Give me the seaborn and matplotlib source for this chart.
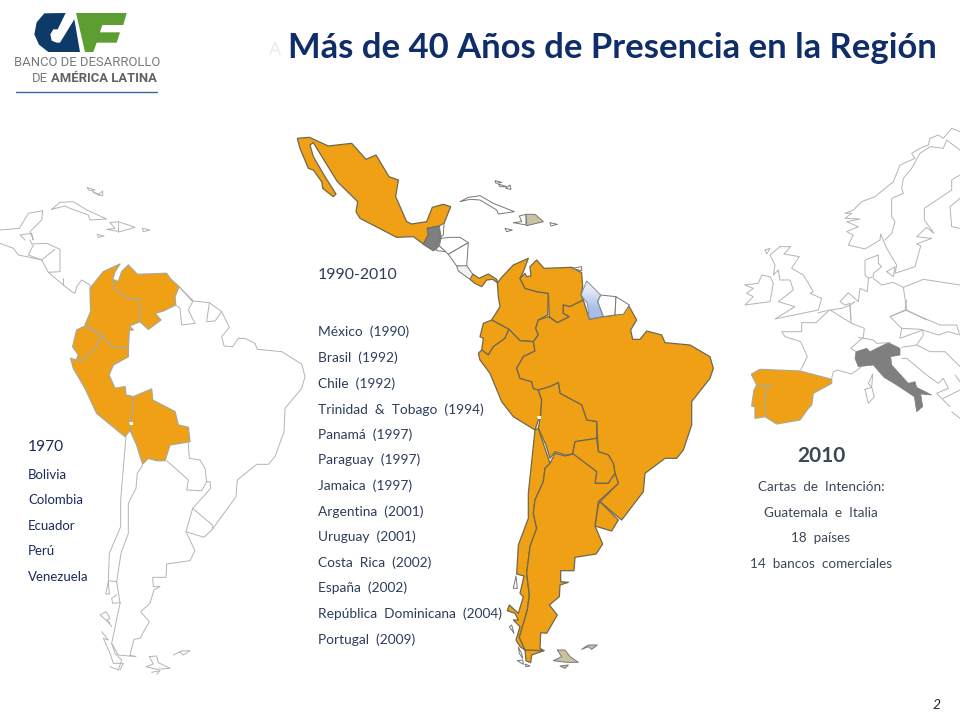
import matplotlib
matplotlib.use("Agg")
import matplotlib.pyplot as plt
from matplotlib.colors import LinearSegmentedColormap
import seaborn as sns

# shapes are traced off the slide, each list is in 3x crop coords of its region
# regions: (left, top) of the crop on the slide
R_LOGO = (25, 5)
R_CARIB = (0, 0)
R_LEFT = (0, 240)
R_LEFT_S = (0, 440)
R_MID_N = (280, 120)
R_MID = (470, 250)
R_MID_S = (470, 450)
R_EU_N = (730, 120)
R_EU_S = (730, 300)

ORANGE = "#f0a014"
GREY_ES = "#7f7f7f"
LINE = "#b4b4b4"
EDGE_MID = "#6e6850"
EDGE_LEFT = "#b0a88e"
NAVY = "#1b2c5c"
SLATE = "#2d3d5b"
RIGHT_TXT = "#3b4759"

title_text = "Más de 40 Años de Presencia en la Región"
list_1970 = ["Bolivia", "Colombia", "Ecuador", "Perú", "Venezuela"]
list_1990 = ["México  (1990)", "Brasil  (1992)", "Chile  (1992)", "Trinidad  &  Tobago  (1994)",
             "Panamá  (1997)", "Paraguay  (1997)", "Jamaica  (1997)", "Argentina  (2001)",
             "Uruguay  (2001)", "Costa  Rica  (2002)", "España  (2002)",
             "República  Dominicana  (2004)", "Portugal  (2009)"]
list_2010 = ["Cartas  de  Intención:", "Guatemala  e  Italia", "18  países", "14  bancos  comerciales"]

logo_navy = [(58,25),(122,24),(98,73),(85,73),(76,88),(80,107),(95,113),(105,113),(148,43),(165,141),
             (70,141),(42,119),(28,88),(35,52)]
logo_green = [(153,24),(305,24),(295,60),(232,60),(225,82),(285,82),(275,113),(215,113),(205,141),(180,141)]

# left map, orange countries
l_venezuela = [(385,75),(412,103),(500,100),(510,115),(537,140),(525,170),(527,195),(490,213),(465,220),
               (483,240),(445,268),(420,245),(418,178),(385,175),(345,150),(338,118),(355,125),(365,95)]
l_colombia = [(360,72),(310,95),(270,145),(272,215),(255,255),(305,285),(335,320),(385,325),(388,270),
              (400,270),(388,258),(420,245),(418,178),(385,175),(345,150),(338,118),(345,95)]
l_ecuador = [(255,258),(303,285),(290,320),(250,360),(228,362),(235,345),(218,320),(230,270)]
l_peru = [(305,285),(335,320),(385,325),(385,350),(340,375),(327,405),(345,445),(375,440),(378,465),
          (400,470),(400,510),(390,545),(395,565),(375,590),(290,520),(255,445),(220,385),(212,355),
          (235,362),(250,360),(290,320)]
l_bolivia = [(400,470),(455,447),(458,480),(525,515),(535,555),(565,562),(570,605),(510,615),(495,662),
             (470,662),(445,655),(428,672),(410,615),(390,570),(398,510)]
l_lake = [(387,545),(400,545),(400,555),(390,555)]

# left map, plain outlines
l_coast_n = [(527,195),(540,205),(545,255),(585,250),(565,210),(578,185),(537,140),(580,183),(628,188),
             (665,215),(688,262),(665,290),(672,318),(698,320),(715,295),(735,295),(765,310),(772,328),
             (845,335),(905,372),(915,410),(905,445),(855,505),(852,575),(843,600)]
l_guianas = [(628,188),(620,245),(645,243),(665,215)]
l_ca_1 = [(0,10),(40,25),(55,45),(80,50),(125,60),(145,97),(180,95),(180,28),(140,10),(95,12),(90,0)]
l_ca_2 = [(100,15),(85,45),(125,60),(165,28)]
l_ca_3 = [(145,97),(190,135),(215,155),(225,160),(230,140),(245,120),(270,135),(270,145)]
l_ca_4 = [(190,115),(190,135)]
l_coast_s = [(843,0),(825,50),(805,73),(770,73),(712,120),(708,170),(637,268),(612,292),(558,275),
             (585,332),(570,362),(500,372),(498,412),(458,412),(460,440),(480,440),(462,450),(450,490),
             (422,515),(448,545),(420,595),(402,598),(390,645),(408,650),(355,645),(335,610)]
l_chile_w = [(378,-10),(362,180),(362,260),(328,340),(325,422),(350,425)]
l_chile_isl = [(325,425),(317,462),(328,462),(325,425)]
l_chile_e = [(428,75),(412,100),(408,145),(385,190),(385,280),(363,340),(350,425),(360,490),(335,610),
             (345,640),(365,660),(355,690),(330,680)]
l_chile_s1 = [(350,465),(335,475),(338,490),(362,488)]
l_chile_s2 = [(330,550),(300,525),(318,515),(330,535),(320,540),(335,560)]
l_chile_s3 = [(305,575),(325,600),(310,595),(330,640),(340,670),(370,670),(360,690)]
l_para = [(500,62),(565,120),(560,150),(605,152),(620,125),(615,85),(600,60),(568,55),(565,10)]
l_para_2 = [(620,125),(630,125),(632,145),(578,205),(558,275)]
l_uru = [(578,205),(637,255),(637,268)]
l_falk = [(448,650),(470,648),(475,668),(510,685),(470,688),(438,680),(460,672),(448,650)]
l_falk_2 = [(455,697),(480,692),(470,703)]
l_geo = [(520,645),(545,633),(570,632),(550,645),(540,636)]
l_cuba = [(155,628),(180,607),(220,605),(260,630),(320,657),(270,660),(265,645),(210,625),(195,618),(155,628)]
l_hisp = [(330,668),(355,665),(405,682),(360,695),(320,688),(345,685),(330,668)]
l_hisp_2 = [(355,665),(355,695)]
l_bah_1 = [(262,563),(285,570),(268,572),(262,563)]
l_bah_2 = [(278,575),(300,585),(285,580),(278,575)]
l_bah_3 = [(295,585),(308,573),(308,587),(295,585)]
l_pr = [(427,685),(450,690),(430,695),(427,685)]
l_jam = [(292,703),(312,708),(295,712),(292,703)]
l_yuc = [(128,632),(85,640),(58,685),(0,690)]
l_yuc_2 = [(128,632),(125,660),(90,695),(100,720),(95,700),(60,705),(75,720)]

# middle map, north
m_mexico = [(52,55),(60,85),(85,145),(100,150),(125,185),(128,205),(160,230),(168,222),(135,170),(100,110),
            (90,75),(100,68),(135,125),(172,185),(233,245),(228,275),(240,295),(350,352),(400,350),(430,372),
            (445,345),(442,325),(478,318),(492,310),(512,260),(490,253),(457,262),(440,305),(395,312),
            (380,305),(347,230),(355,180),(327,170),(288,105),(258,118),(215,70),(145,78),(88,52)]
m_guatemala = [(442,325),(478,318),(483,355),(470,385),(460,392),(430,373),(445,345)]
m_belize = [(478,318),(492,310),(490,345),(483,350)]
m_honduras = [(483,355),(510,352),(540,352),(565,368),(505,403),(478,378)]
m_nicaragua = [(565,368),(560,440),(530,438),(505,403)]
m_salvador = [(470,385),(478,378),(497,395),(470,392)]
m_costarica = [(530,438),(560,437),(578,462),(570,478),(535,453)]
m_panama = [(570,478),(578,462),(597,475),(625,462),(650,478),(655,490),(638,478),(620,480),(605,500),(585,490)]
m_cuba = [(540,245),(565,232),(600,227),(640,250),(703,275),(655,282),(650,270),(600,240),(570,238)]
m_bah_1 = [(645,182),(665,187),(648,190)]
m_bah_2 = [(655,192),(680,200),(660,200)]
m_bah_3 = [(677,205),(690,195),(693,208)]
m_haiti = [(718,288),(738,283),(738,315),(700,308),(725,305)]
m_domrep = [(738,283),(765,283),(790,305),(740,317)]
m_pr = [(810,308),(832,313),(813,318)]
m_jam = [(675,325),(697,330),(680,335)]

# middle map, south america
m_colombia = [(82,100),(95,82),(130,45),(175,25),(160,65),(150,85),(165,115),(200,125),(235,130),(233,195),
              (205,210),(197,235),(205,255),(190,275),(150,272),(117,238),(65,210),(90,170),(85,140)]
m_venezuela = [(200,30),(222,55),(305,52),(335,68),(338,110),(333,135),(340,150),(300,170),(280,165),(280,190),
               (298,200),(262,218),(238,200),(235,130),(200,125),(165,115),(150,85),(165,70),(170,80),(183,78),(180,50)]
m_ecuador = [(65,210),(117,238),(105,265),(70,290),(55,315),(35,300),(40,265),(30,260),(40,220)]
m_peru = [(117,238),(150,272),(190,275),(195,303),(160,320),(140,355),(150,385),(185,395),(190,415),(205,420),
          (215,450),(212,495),(205,510),(195,540),(130,500),(95,455),(60,370),(30,330),(25,310),(35,300),
          (55,315),(70,290),(105,265)]
m_brazil = [(475,165),(500,210),(482,240),(488,268),(510,268),(530,243),(575,255),(585,278),(660,285),(720,320),
            (730,355),(720,385),(665,455),(665,525),(640,600),(620,625),(585,625),(525,670),(520,725),(455,810),
            (390,755),(445,700),(435,670),(430,640),(415,615),(385,605),(380,515),(350,510),(335,465),(270,430),
            (265,398),(240,410),(205,420),(190,415),(185,395),(150,385),(140,355),(160,320),(195,303),(190,275),
            (205,255),(197,235),(205,210),(235,200),(262,218),(298,200),(280,190),(280,165),(300,170),(340,150),
            (358,208),(400,200),(435,195)]
m_bolivia = [(205,420),(240,410),(265,398),(270,430),(335,465),(350,510),(380,515),(380,565),(315,575),(308,612),
             (285,615),(255,605),(240,625),(228,585),(205,535),(212,495),(215,450)]
m_paraguay = [(308,612),(380,665),(375,700),(415,700),(435,670),(430,640),(415,615),(385,605),(380,565),(315,575)]
m_lake = [(200,497),(213,497),(213,506),(203,506)]
m_guyana = [(350,93),(392,135),(383,155),(400,200),(358,208),(352,160),(333,135)]
m_suriname = [(392,135),(438,140),(435,195),(400,200),(383,155)]
m_guiana_fr = [(438,140),(478,165),(460,193),(435,195)]
m_trinidad = [(305,55),(335,50),(335,62)]

s_uruguay = [(390,155),(445,210),(425,243),(375,228),(385,165)]
s_argentina = [(240,40),(255,10),(285,18),(310,12),(380,65),(375,100),(415,100),(435,70),(445,100),(385,155),
               (375,228),(398,282),(378,312),(315,322),(312,362),(272,362),(272,395),(295,397),(270,405),(268,440),
               (238,465),(262,495),(230,550),(212,548),(210,595),(222,602),(165,600),(148,562),(172,480),(178,435),
               (170,370),(180,290),(200,235),(190,190),(195,150),(220,95),(225,55)]
s_chile = [(195,-60),(175,130),(175,205),(145,285),(140,372),(162,378),(150,430),(160,440),(145,490),(118,465),
           (112,482),(135,490),(145,510),(130,510),(150,530),(138,570),(150,590),(165,600),(222,602),(185,615),
           (182,638),(168,632),(165,600),(148,562),(172,480),(178,435),(170,370),(180,290),(200,235),(190,190),
           (195,150),(220,95),(225,55),(240,40),(228,5),(205,-65)]
s_isl_1 = [(130,415),(138,378),(142,415)]
s_isl_2 = [(118,530),(125,525),(132,550)]
s_isl_3 = [(145,592),(155,610),(158,625),(148,610)]
s_isl_4 = [(142,632),(158,630),(160,643)]
s_isl_5 = [(165,642),(180,648),(168,650)]
s_falk = [(262,600),(285,600),(300,620),(325,637),(290,637),(250,632),(275,620)]
s_falk_2 = [(270,648),(295,645),(285,655)]
s_geo = [(335,598),(355,585),(382,585),(365,598),(355,590)]

# europe, plain outlines
e_norway = [(690,35),(665,25),(640,55),(625,45),(600,55),(595,75),(570,85),(545,100),(555,115),(510,135),(490,185),
            (435,230),(395,245),(370,270),(345,280),(365,280),(345,295),(390,297),(350,305),(385,320),(350,335),
            (370,345),(355,375),(405,387),(450,360),(452,342),(470,385),(500,435),(495,460),(555,440),(572,378),
            (560,372),(605,355),(560,350),(590,322),(612,340),(583,300),(583,265),(665,210),(665,180),(690,165)]
e_border = [(690,90),(650,60),(640,85),(600,80),(570,100),(545,145),(520,175),(515,205),(520,220),(485,235),
            (485,290),(495,305),(485,340),(465,360)]
e_finland = [(690,235),(660,260),(665,320),(690,325)]
e_denmark = [(415,475),(405,465),(405,420),(445,405),(445,430),(455,440),(430,460),(430,470),(415,475)]
e_zealand = [(470,455),(495,440),(490,470),(470,455)]
e_germany = [(415,475),(412,515),(390,505),(385,545),(355,518),(330,545),(345,555),(360,550),(363,600)]
e_baltic = [(430,475),(455,495),(490,487),(520,502),(530,570),(590,600)]
e_poland = [(520,502),(580,478),(690,495)]
e_czech = [(530,570),(480,590)]
e_uk = [(150,380),(182,380),(162,402),(208,410),(185,445),(220,465),(250,515),(240,520),(275,535),(265,570),(135,597),
        (195,560),(145,545),(190,510),(180,480),(150,480),(145,450),(130,465),(135,435),(120,405),(150,380)]
e_ireland = [(45,495),(85,490),(95,465),(120,470),(130,490),(120,545),(45,555),(70,530),(50,520),(70,505),(45,495)]
e_shet = [(105,390),(120,385),(110,402),(105,390)]

f_france_n = [(295,33),(258,68),(215,68),(215,95),(155,95),(165,110),(212,125),(232,170),(212,210)]
f_france_s = [(305,235),(310,215),(322,210),(365,222),(395,200)]
f_france_e = [(300,30),(365,70),(403,85),(400,112),(362,145),(378,155)]
f_benelux = [(265,38),(300,30),(335,25),(360,15),(375,5)]
f_benelux_2 = [(360,15),(363,70)]
f_swiss = [(385,112),(430,120),(440,130),(480,128)]
f_austria = [(530,0),(525,30),(480,50),(515,85),(510,115),(578,90),(580,105),(560,135),(515,142)]
f_hungary = [(525,30),(630,75),(680,75),(688,100)]
f_slovak = [(515,85),(572,88),(625,105),(655,95),(690,105)]
f_serbia = [(560,135),(600,155),(645,155),(690,200)]
f_adria = [(515,175),(530,175),(590,225),(625,250),(640,235),(655,265),(620,280),(660,320)]
f_greece = [(640,295),(690,270)]
f_greece_2 = [(665,335),(690,355)]
f_bulg = [(675,225),(690,245)]
f_corsica = [(415,250),(428,222),(425,262),(415,250)]
f_sardinia = [(405,268),(425,262),(433,290),(415,310),(405,268)]
f_italy = [(378,155),(410,145),(420,155),(475,128),(510,145),(510,165),(482,170),(485,195),(535,250),(555,245),
           (560,262),(605,285),(572,282),(578,320),(560,335),(553,290),(500,255),(462,232),(430,195),(385,200),(375,175)]
f_spain = [(65,222),(90,208),(210,213),(305,238),(305,250),(250,280),(245,315),(235,325),(210,360),(140,372),
           (105,350),(105,270),(120,255),(80,255),(65,225)]
f_portugal = [(80,255),(120,255),(105,270),(105,350),(75,355),(75,320),(65,318),(72,270)]

left_lines = [l_coast_n, l_guianas, l_ca_1, l_ca_2, l_ca_3, l_ca_4]
left_s_lines = [l_coast_s, l_chile_w, l_chile_isl, l_chile_e, l_chile_s1, l_chile_s2, l_chile_s3, l_para,
                l_para_2, l_uru, l_falk, l_falk_2, l_geo]
carib_lines = [l_cuba, l_hisp, l_hisp_2, l_bah_1, l_bah_2, l_bah_3, l_pr, l_jam, l_yuc, l_yuc_2]
eu_n_lines = [e_norway, e_border, e_finland, e_denmark, e_zealand, e_germany, e_baltic, e_poland, e_czech,
              e_uk, e_ireland, e_shet]
eu_s_lines = [f_france_n, f_france_s, f_france_e, f_benelux, f_benelux_2, f_swiss, f_austria, f_hungary,
              f_slovak, f_serbia, f_adria, f_greece, f_greece_2, f_bulg, f_corsica, f_sardinia]


def to_page(pts, region):
    xs = [region[0] + p[0] / 3 for p in pts]
    ys = [region[1] + p[1] / 3 for p in pts]
    return xs, ys


def fill(ax, pts, region, face, edge, lw=0.9):
    xs, ys = to_page(pts, region)
    return ax.fill(xs, ys, facecolor=face, edgecolor=edge, linewidth=lw, joinstyle="round")[0]


def line(ax, pts, region, color=LINE, lw=0.7):
    xs, ys = to_page(pts, region)
    sns.lineplot(x=xs, y=ys, sort=False, estimator=None, color=color, linewidth=lw, ax=ax, legend=False)


sns.set_theme(style="white")
plt.rcParams["font.family"] = ["Lato", "DejaVu Sans"]

fig = plt.figure(figsize=(9.6, 7.2), dpi=100, facecolor="white")
ax = fig.add_axes([0, 0, 1, 1])

# logo
fill(ax, logo_navy, R_LOGO, "#0d3a66", "none", 0)
fill(ax, logo_green, R_LOGO, "#5c9e31", "none", 0)
ax.text(14, 63, "BANCO DE DESARROLLO", fontsize=9.4, color="#77797b", va="center", family=["Roboto"])
ax.text(32, 78.5, "DE", fontsize=9.4, color="#77797b", va="center", family=["Roboto"])
ax.text(51, 78.5, "AMÉRICA LATINA", fontsize=9.4, color="#5f6163", va="center", weight="bold", family=["Roboto"])
ax.plot([16, 157], [92, 92], color="#2a6ca8", lw=1)

# title
ax.text(269, 50, "A", fontsize=13, color="#ececec", va="center")
ax.text(937, 48, title_text, fontsize=24.9, weight="bold", color="#0f2d69", va="center", ha="right")

# left map
for pts in left_lines:
    line(ax, pts, R_LEFT)
for pts in left_s_lines:
    line(ax, pts, R_LEFT_S)
for pts in carib_lines:
    line(ax, pts, R_CARIB)
for pts in [l_venezuela, l_colombia, l_ecuador, l_peru, l_bolivia]:
    fill(ax, pts, R_LEFT, ORANGE, EDGE_LEFT, 1.0)
fill(ax, l_lake, R_LEFT, "white", "none", 0)

# middle map
for pts in [m_mexico, m_panama]:
    fill(ax, pts, R_MID_N, ORANGE, EDGE_MID)
fill(ax, m_guatemala, R_MID_N, GREY_ES, "#6f6f6f")
for pts in [m_belize, m_honduras, m_nicaragua, m_salvador, m_cuba, m_bah_1, m_bah_2, m_bah_3, m_haiti, m_pr, m_jam]:
    fill(ax, pts, R_MID_N, "white", "#777777", 0.7)
fill(ax, m_costarica, R_MID_N, "#f3f3ec", "#777777", 0.7)
fill(ax, m_domrep, R_MID_N, "#c9c2a0", "#777777", 0.7)
for pts in [m_colombia, m_venezuela, m_ecuador, m_peru, m_brazil, m_bolivia, m_paraguay]:
    fill(ax, pts, R_MID, ORANGE, EDGE_MID)
for pts in [s_uruguay, s_chile, s_argentina]:
    fill(ax, pts, R_MID_S, ORANGE, EDGE_MID)
fill(ax, m_lake, R_MID, "white", "none", 0)
for pts in [m_suriname, m_guiana_fr, m_trinidad]:
    fill(ax, pts, R_MID, "white", "#777777", 0.7)
for pts in [s_isl_1, s_isl_2, s_isl_3, s_isl_4, s_isl_5]:
    fill(ax, pts, R_MID_S, "white", "#777777", 0.7)
for pts in [s_falk, s_falk_2, s_geo]:
    fill(ax, pts, R_MID_S, "#c9c2a0", "#777777", 0.7)

# guyana has a light blue fade, edge goes on top of it
guy = fill(ax, m_guyana, R_MID, "none", "#8a8f9a", 0.7)
fade = LinearSegmentedColormap.from_list("fade", ["#e4eaf6", "#a7bee8"])
xs, ys = to_page(m_guyana, R_MID)
im = ax.imshow([[0], [1]], cmap=fade, extent=[min(xs), max(xs), max(ys), min(ys)], aspect="auto",
               interpolation="bilinear", zorder=0.5)
im.set_clip_path(guy)

# europe
for pts in eu_n_lines:
    line(ax, pts, R_EU_N)
for pts in eu_s_lines:
    line(ax, pts, R_EU_S)
fill(ax, f_italy, R_EU_S, GREY_ES, "#7f7f7f", 0.5)
fill(ax, f_spain, R_EU_S, ORANGE, EDGE_LEFT, 0.9)
fill(ax, f_portugal, R_EU_S, ORANGE, EDGE_LEFT, 0.9)

# text blocks
ax.text(28, 447, "1970", fontsize=11.2, color=NAVY, va="center")
for label, y in zip(list_1970, [475, 500, 526, 551, 577]):
    ax.text(28, y, label, fontsize=9.5, color=NAVY, va="center")

ax.text(318, 275, "1990-2010", fontsize=11.4, color=SLATE, va="center")
row_y = [332, 358, 384, 410, 435, 460, 486, 512, 537, 563, 588, 614, 640]
for label, y in zip(list_1990, row_y):
    ax.text(318, y, label, fontsize=9.9, color=SLATE, va="center")

ax.text(821, 456, "2010", fontsize=15, weight="bold", color=RIGHT_TXT, va="center", ha="center")
for label, y in zip(list_2010, [487, 513, 538, 564]):
    ax.text(821, y, label, fontsize=9.7, color=RIGHT_TXT, va="center", ha="center")

ax.text(937, 705, "2", fontsize=10, style="italic", color="#222222", va="center", ha="center")

ax.set_xlim(0, 960)
ax.set_ylim(720, 0)
ax.axis("off")
fig.savefig("out.png", dpi=100, facecolor="white")
